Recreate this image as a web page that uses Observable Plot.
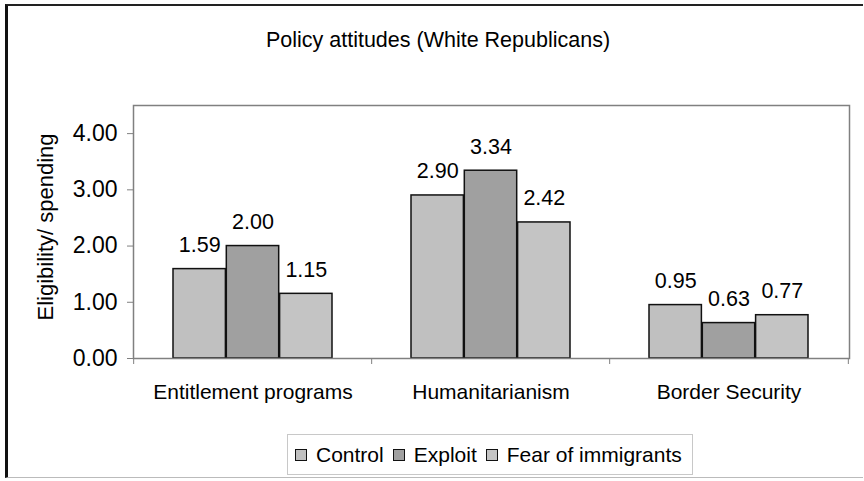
<!DOCTYPE html>
<html>
<head>
<meta charset="utf-8">
<script src="https://cdn.jsdelivr.net/npm/d3@7"></script>
<script src="https://cdn.jsdelivr.net/npm/@observablehq/plot@0.6"></script>
<style>
  html, body { margin: 0; padding: 0; background: #fff; }
  #wrap { position: relative; width: 864px; height: 481px; overflow: hidden;
          font-family: "Liberation Sans", Arial, sans-serif; color: #000; }
  #frame { position: absolute; left: 5px; top: 4px; width: 858px; height: 474px;
           border-left: 3px solid #111; border-top: 2px solid #222;
           border-bottom: 1px solid #bbb; box-sizing: border-box; pointer-events: none; }
  #title { position: absolute; left: 0; top: 0; width: 864px; height: 80px;
           text-align: center; font-size: 21.5px; line-height: 21px; padding-top: 30px;
           box-sizing: border-box; padding-left: 12px; }
  #chart { position: absolute; left: 0; top: 80px; }
  #legend { position: absolute; left: 287px; top: 434px; width: 406px; height: 41px;
            border: 1px solid #c8c8c8; box-sizing: border-box; display: flex;
            align-items: center; padding-left: 7px; font-size: 21px; }
  .item { display: flex; align-items: center; margin-right: 9px; }
  .sw { width: 10px; height: 10px; border: 1.5px solid #111; margin-right: 9px; }
  g[aria-label="y-axis tick"], g[aria-label="x-axis tick"] { stroke: #808080; }
  g[aria-label="y-axis tick label"], g[aria-label="y-axis tick label"] text,
  g[aria-label="y-axis"] text { font-size: 23px; }
  g[aria-label="x-axis tick label"], g[aria-label="x-axis tick label"] text,
  g[aria-label="x-axis"] text { font-size: 21px; }
</style>
</head>
<body>
<div id="wrap">
  <div id="title"></div>
  <div id="chart"></div>
  <div id="legend"></div>
  <div id="frame"></div>
</div>
<script>
const chartTitle = "Policy attitudes (White Republicans)";
const yLabel = "Eligibility/ spending";
const categories = ["Entitlement programs", "Humanitarianism", "Border Security"];
const series = ["Control", "Exploit", "Fear of immigrants"];
const control = [1.59, 2.90, 0.95];
const exploit = [2.00, 3.34, 0.63];
const fear = [1.15, 2.42, 0.77];
const yTicks = [0, 1, 2, 3, 4];
const colors = ["#c0c0c0", "#a0a0a0", "#c4c4c4"];

const valuesBySeries = [control, exploit, fear];
const data = categories.flatMap((c, i) =>
  series.map((s, j) => ({category: c, series: s, value: valuesBySeries[j][i], j})));

const W = 864, H = 340, ml = 133, mr = 15, mt = 25, mb = 62;
const pInner = 0.33, pOuter = 0.165;
const step = (W - ml - mr) / (categories.length - pInner + 2 * pOuter);
const bw = step * (1 - pInner);
const seg = bw / series.length;

document.getElementById("title").textContent = chartTitle;

const marks = [];
series.forEach((s, j) => {
  const sub = data.filter(d => d.j === j);
  marks.push(Plot.barY(sub, {
    x: "category", y: "value", fill: colors[j], stroke: "#111", strokeWidth: 1.5,
    insetLeft: j * seg, insetRight: (series.length - 1 - j) * seg
  }));
  marks.push(Plot.text(sub, {
    x: "category", y: "value", text: d => d3.format(".2f")(d.value),
    dx: (j - 1) * seg, dy: -24, lineAnchor: "middle", textAnchor: "middle",
    fontSize: 21.5, fill: "#000"
  }));
});
marks.push(Plot.frame({stroke: "#808080", strokeWidth: 1.5}));
marks.push(Plot.ruleX(categories, {x: d => d, y1: 0, y2: 0, dx: -step / 2, insetBottom: -6, stroke: "#808080"}));
marks.push(Plot.ruleX(categories.slice(-1), {x: d => d, y1: 0, y2: 0, dx: step / 2, insetBottom: -6, stroke: "#808080"}));
marks.push(Plot.text([yLabel], {
  text: d => d, frameAnchor: "left", dx: -88, dy: -5, rotate: -90,
  textAnchor: "middle", lineAnchor: "middle", fontSize: 22, fill: "#000"
}));

const plot = Plot.plot({
  width: W, height: H,
  marginLeft: ml, marginRight: mr, marginTop: mt, marginBottom: mb,
  style: {fontFamily: '"Liberation Sans", Arial, sans-serif', fontSize: "21px", background: "transparent", color: "#000"},
  x: {domain: categories, paddingInner: pInner, paddingOuter: pOuter, tickSize: 0, tickPadding: 26, label: null},
  y: {domain: [0, 4.5], ticks: yTicks, tickFormat: d3.format(".2f"), tickSize: 6, tickPadding: 10, label: null},
  marks
});
document.getElementById("chart").appendChild(plot);

const legend = document.getElementById("legend");
series.forEach((s, j) => {
  const it = document.createElement("div");
  it.className = "item";
  const sw = document.createElement("div");
  sw.className = "sw";
  sw.style.background = colors[j];
  const tx = document.createElement("span");
  tx.textContent = s;
  it.appendChild(sw); it.appendChild(tx);
  legend.appendChild(it);
});
</script>
</body>
</html>
